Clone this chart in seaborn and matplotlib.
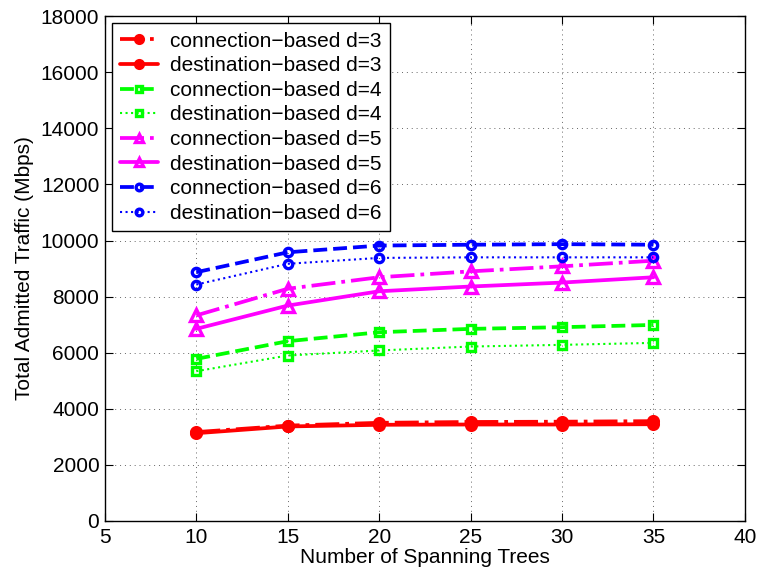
import matplotlib
matplotlib.use("Agg")
import matplotlib.pyplot as plt
import seaborn as sns
import pandas as pd

sns.set_style("ticks")
plt.rcParams['font.family'] = ['Liberation Sans', 'DejaVu Sans']
plt.rcParams['font.size'] = 15
plt.rcParams['text.color'] = 'black'
plt.rcParams['axes.labelcolor'] = 'black'
plt.rcParams['xtick.color'] = 'black'
plt.rcParams['ytick.color'] = 'black'

# --- DATA ---
trees = [10, 15, 20, 25, 30, 35]
conn_d3 = [3170, 3400, 3500, 3530, 3540, 3560]
dest_d3 = [3130, 3370, 3430, 3440, 3440, 3450]
conn_d4 = [5780, 6410, 6730, 6850, 6910, 6990]
dest_d4 = [5340, 5900, 6080, 6220, 6280, 6350]
conn_d5 = [7330, 8280, 8690, 8900, 9080, 9280]
dest_d5 = [6850, 7680, 8190, 8360, 8500, 8690]
conn_d6 = [8870, 9580, 9820, 9850, 9870, 9850]
dest_d6 = [8430, 9170, 9380, 9400, 9400, 9400]

series = [
    ("connection\u2212based d=3", conn_d3, "#ff0000", "-.", "o", True),
    ("destination\u2212based d=3", dest_d3, "#ff0000", "-", "o", True),
    ("connection\u2212based d=4", conn_d4, "#00ff00", "--", "s", False),
    ("destination\u2212based d=4", dest_d4, "#00ff00", ":", "s", False),
    ("connection\u2212based d=5", conn_d5, "#ff00ff", "-.", "^", False),
    ("destination\u2212based d=5", dest_d5, "#ff00ff", "-", "^", False),
    ("connection\u2212based d=6", conn_d6, "#0000ff", "--", "o", False),
    ("destination\u2212based d=6", dest_d6, "#0000ff", ":", "o", False),
]

fig, ax = plt.subplots(figsize=(7.6, 5.76), dpi=100)
fig.subplots_adjust(left=0.138, right=0.980, bottom=0.0955, top=0.972)

for label, vals, color, ls, mk, filled in series:
    df = pd.DataFrame({"trees": trees, "traffic": vals})
    lw = 1.5 if ls == ":" else 2.7
    sns.lineplot(data=df, x="trees", y="traffic", ax=ax, label=label,
                 color=color, linestyle=ls, linewidth=lw, marker=mk,
                 markersize=(7 if filled else 6) if mk != "^" else 8,
                 markerfacecolor=color if filled else "none",
                 markeredgecolor=color, markeredgewidth=2.4)

ax.set_xlim(5, 40)
ax.set_ylim(0, 18000)
ax.set_xticks(range(5, 41, 5))
ax.set_yticks(range(0, 18001, 2000))
ax.grid(True, linestyle=(0, (1, 4)), color="#666666", linewidth=0.7)
ax.tick_params(direction="in", length=5.5, width=0.8, labelsize=15,
               color="black", top=True, right=True)
ax.tick_params(axis="y", pad=4)
ax.tick_params(axis="x", pad=5)
for sp in ax.spines.values():
    sp.set_color("black")
    sp.set_linewidth(1.0)

ax.set_xlabel("Number of Spanning Trees", fontsize=15, labelpad=1)
ax.set_ylabel("Total Admitted Traffic (Mbps)", fontsize=15, labelpad=5)

leg = ax.legend(loc="upper left", fontsize=15, frameon=True, fancybox=False,
                handlelength=1.8, handletextpad=0.6, borderpad=0.4,
                labelspacing=0.27, borderaxespad=0.34, markerscale=0.8)
leg.get_frame().set_edgecolor("black")
leg.get_frame().set_linewidth(1.0)
leg.get_frame().set_alpha(1.0)

plt.savefig("out.png", dpi=100)
